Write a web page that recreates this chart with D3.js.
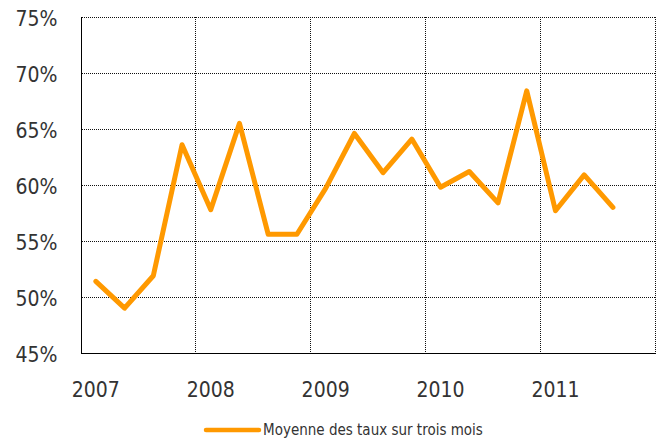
<!DOCTYPE html>
<html>
<head>
<meta charset="utf-8">
<script src="https://cdn.jsdelivr.net/npm/d3@7/dist/d3.min.js"></script>
<style>
  html, body { margin: 0; padding: 0; background: #fff; }
  svg { display: block; }
  text { font-family: "DejaVu Sans Condensed", "DejaVu Sans", sans-serif; fill: #333; }
</style>
</head>
<body>
<svg id="chart" width="660" height="439"></svg>
<script>
// Years shown on the time axis
const years = [2007, 2008, 2009, 2010, 2011];
// Month of each three-month average, one entry per point
const periods = [
  "2007-02", "2007-05", "2007-08", "2007-11",
  "2008-02", "2008-05", "2008-08", "2008-11",
  "2009-02", "2009-05", "2009-08", "2009-11",
  "2010-02", "2010-05", "2010-08", "2010-11",
  "2011-02", "2011-05", "2011-08"
];
// Three-month average rate, in percent
const rates = [
  51.4, 49.0, 51.9, 63.6,
  57.8, 65.5, 55.6, 55.6,
  59.7, 64.6, 61.1, 64.1,
  59.8, 61.2, 58.4, 68.4,
  57.7, 60.9, 58.0
];
// Y axis ticks, in percent
const yTicks = [45, 50, 55, 60, 65, 70, 75];
const seriesName = "Moyenne des taux sur trois mois";

const svg = d3.select("#chart");
const plot = { left: 81.5, right: 656, top: 17, bottom: 353 };

// One band per month across the whole period
const months = [];
years.forEach(y => d3.range(1, 13).forEach(m => months.push(`${y}-${String(m).padStart(2, "0")}`)));

const x = d3.scaleBand().domain(months).range([plot.left, plot.right]).paddingInner(0).paddingOuter(0);
const xc = k => x(k) + x.bandwidth() / 2;
const y = d3.scaleLinear().domain([45, 75]).range([plot.bottom, plot.top]);

const grid = svg.append("g")
  .attr("stroke", "#111")
  .attr("stroke-width", 1)
  .attr("stroke-dasharray", "1,1")
  .attr("shape-rendering", "crispEdges");

// Horizontal gridlines (the top one closes the frame)
grid.selectAll("line.h")
  .data(yTicks.filter(t => t > 45))
  .join("line")
  .attr("class", "h")
  .attr("x1", plot.left).attr("x2", plot.right)
  .attr("y1", d => Math.round(y(d)) + 0.5)
  .attr("y2", d => Math.round(y(d)) + 0.5);

// Vertical gridlines at each new year, plus the right edge
const yearStarts = years.slice(1).map(v => x(`${v}-01`)).concat([plot.right]);
grid.selectAll("line.v")
  .data(yearStarts)
  .join("line")
  .attr("class", "v")
  .attr("x1", d => Math.round(d) - 0.5).attr("x2", d => Math.round(d) - 0.5)
  .attr("y1", plot.top).attr("y2", plot.bottom);

// Solid left and bottom axis lines
const axisG = svg.append("g").attr("stroke", "#000").attr("stroke-width", 1.3).attr("shape-rendering", "crispEdges");
axisG.append("line")
  .attr("x1", plot.left).attr("x2", plot.left)
  .attr("y1", plot.top).attr("y2", plot.bottom + 0.5);
axisG.append("line")
  .attr("x1", plot.left).attr("x2", plot.right)
  .attr("y1", plot.bottom + 0.5).attr("y2", plot.bottom + 0.5);

// Y tick labels
svg.append("g").selectAll("text")
  .data(yTicks)
  .join("text")
  .attr("x", 57.5)
  .attr("y", d => y(d) + 8.5)
  .attr("text-anchor", "end")
  .attr("font-size", 21)
  .text(d => d + "%");

// Year labels, centred on February of each year
svg.append("g").selectAll("text")
  .data(years)
  .join("text")
  .attr("x", d => xc(`${d}-02`))
  .attr("y", 396.5)
  .attr("text-anchor", "middle")
  .attr("font-size", 21)
  .text(d => d);

// Series line
const line = d3.line()
  .x((d, i) => xc(periods[i]))
  .y(d => y(d));

svg.append("path")
  .datum(rates)
  .attr("fill", "none")
  .attr("stroke", "#FF9900")
  .attr("stroke-width", 5)
  .attr("stroke-linejoin", "round")
  .attr("stroke-linecap", "round")
  .attr("d", line);

// Legend
const legend = svg.append("g");
legend.append("line")
  .attr("x1", 206).attr("x2", 259)
  .attr("y1", 430).attr("y2", 430)
  .attr("stroke", "#FF9900")
  .attr("stroke-width", 4.5)
  .attr("stroke-linecap", "round");
legend.append("text")
  .attr("x", 263)
  .attr("y", 435)
  .attr("font-size", 15)
  .text(seriesName);
</script>
</body>
</html>
